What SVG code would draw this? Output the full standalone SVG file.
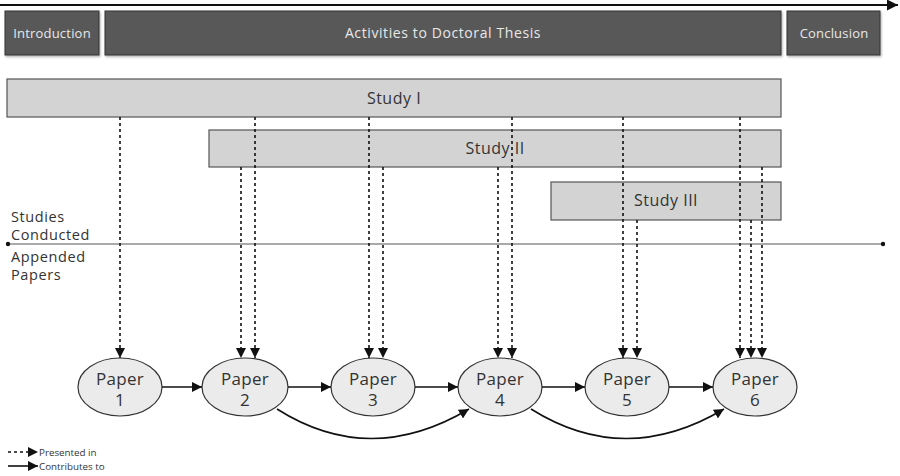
<svg xmlns="http://www.w3.org/2000/svg" width="900" height="476" viewBox="0 0 900 476">
  <defs>
    <marker id="head" viewBox="0 0 10 10" refX="10" refY="5" markerWidth="10" markerHeight="10" markerUnits="userSpaceOnUse" orient="auto">
      <path d="M0,0 L10,5 L0,10 z" fill="#111"/>
    </marker>
    <marker id="headBig" viewBox="0 0 10 10" refX="10" refY="5" markerWidth="11" markerHeight="11" markerUnits="userSpaceOnUse" orient="auto">
      <path d="M0,0 L10,5 L0,10 z" fill="#111"/>
    </marker>
    <filter id="shadow" x="-5%" y="-10%" width="110%" height="130%">
      <feDropShadow dx="1" dy="1.5" stdDeviation="1" flood-color="#000" flood-opacity="0.3"/>
    </filter>
  </defs>
  <style>
    text { font-family: "Open Sans", "Noto Sans", "Liberation Sans", sans-serif; }
    .phase { fill: #595959; stroke: #333; stroke-width: 1; filter: url(#shadow); }
    .phase-label { fill: #e8e8e8; font-size: 13px; letter-spacing: 0.2px; text-anchor: middle; }
    .phase-label.wide { font-size: 14px; letter-spacing: 0.6px; }
    .study { fill: #d3d3d3; stroke: #555; stroke-width: 1.2; }
    .study-label { fill: #333; font-size: 16px; letter-spacing: 0.5px; text-anchor: middle; }
    .paper { fill: #ebebeb; stroke: #333; stroke-width: 1.2; }
    .paper-label { fill: #333; font-size: 17px; letter-spacing: 0.3px; text-anchor: middle; }
    .side-label { fill: #333; font-size: 14.5px; letter-spacing: 0.6px; }
    .legend-label { fill: #333; font-size: 9.8px; }
    .presented { stroke: #111; stroke-width: 1.6; stroke-dasharray: 3 3; fill: none; marker-end: url(#head); }
    .contributes { stroke: #111; stroke-width: 1.6; fill: none; marker-end: url(#head); }
  </style>

  <!-- time axis -->
  <line x1="0" y1="5" x2="898" y2="5" stroke="#111" stroke-width="1.8" marker-end="url(#headBig)"/>

  <!-- phases -->
  <g id="introduction">
    <rect class="phase" x="5" y="11" width="94" height="44"/>
    <text class="phase-label" x="52" y="38">Introduction</text>
  </g>
  <g id="activities">
    <rect class="phase" x="105" y="11" width="676" height="44"/>
    <text class="phase-label wide" x="443" y="38">Activities to Doctoral Thesis</text>
  </g>
  <g id="conclusion">
    <rect class="phase" x="787" y="11" width="93" height="44"/>
    <text class="phase-label" x="834" y="38">Conclusion</text>
  </g>

  <!-- studies -->
  <g id="study-1">
    <rect class="study" x="7" y="79" width="774" height="38"/>
    <text class="study-label" x="394" y="104">Study I</text>
  </g>
  <g id="study-2">
    <rect class="study" x="209" y="130" width="572" height="37"/>
    <text class="study-label" x="495" y="154">Study II</text>
  </g>
  <g id="study-3">
    <rect class="study" x="551" y="182" width="230" height="38"/>
    <text class="study-label" x="666" y="206">Study III</text>
  </g>

  <!-- divider between studies and papers -->
  <g id="divider">
    <line x1="8" y1="244" x2="883" y2="244" stroke="#555" stroke-width="1.2"/>
    <circle cx="8" cy="244" r="2.2" fill="#111"/>
    <circle cx="883" cy="244" r="2.2" fill="#111"/>
    <text class="side-label" x="11" y="222">Studies</text>
    <text class="side-label" x="11" y="240">Conducted</text>
    <text class="side-label" x="11" y="262">Appended</text>
    <text class="side-label" x="11" y="280">Papers</text>
  </g>

  <!-- papers -->
  <g id="paper-1">
    <ellipse class="paper" cx="120" cy="387" rx="42" ry="29"/>
    <text class="paper-label" x="120" y="385">Paper</text>
    <text class="paper-label" x="120" y="406">1</text>
  </g>
  <g id="paper-2">
    <ellipse class="paper" cx="245" cy="387" rx="43" ry="29"/>
    <text class="paper-label" x="245" y="385">Paper</text>
    <text class="paper-label" x="245" y="406">2</text>
  </g>
  <g id="paper-3">
    <ellipse class="paper" cx="373" cy="387" rx="42" ry="29"/>
    <text class="paper-label" x="373" y="385">Paper</text>
    <text class="paper-label" x="373" y="406">3</text>
  </g>
  <g id="paper-4">
    <ellipse class="paper" cx="500" cy="387" rx="42" ry="29"/>
    <text class="paper-label" x="500" y="385">Paper</text>
    <text class="paper-label" x="500" y="406">4</text>
  </g>
  <g id="paper-5">
    <ellipse class="paper" cx="627" cy="387" rx="42" ry="29"/>
    <text class="paper-label" x="627" y="385">Paper</text>
    <text class="paper-label" x="627" y="406">5</text>
  </g>
  <g id="paper-6">
    <ellipse class="paper" cx="755" cy="387" rx="42" ry="29"/>
    <text class="paper-label" x="755" y="385">Paper</text>
    <text class="paper-label" x="755" y="406">6</text>
  </g>

  <!-- connectors -->
  <g id="connectors">
    <!-- Study I -> papers -->
    <line class="presented" x1="120" y1="117" x2="120" y2="358"/>
    <line class="presented" x1="255" y1="117" x2="255" y2="358"/>
    <line class="presented" x1="369" y1="117" x2="369" y2="358"/>
    <line class="presented" x1="512" y1="117" x2="512" y2="358"/>
    <line class="presented" x1="623" y1="117" x2="623" y2="358"/>
    <line class="presented" x1="740" y1="117" x2="740" y2="358"/>
    <!-- Study II -> papers -->
    <line class="presented" x1="241" y1="167" x2="241" y2="358"/>
    <line class="presented" x1="383" y1="167" x2="383" y2="358"/>
    <line class="presented" x1="498" y1="167" x2="498" y2="358"/>
    <line class="presented" x1="762" y1="167" x2="762" y2="358"/>
    <!-- Study III -> papers -->
    <line class="presented" x1="637" y1="220" x2="637" y2="358"/>
    <line class="presented" x1="751" y1="220" x2="751" y2="358"/>

    <!-- paper to paper -->
    <line class="contributes" x1="162" y1="387" x2="202" y2="387"/>
    <line class="contributes" x1="288" y1="387" x2="331" y2="387"/>
    <line class="contributes" x1="415" y1="387" x2="458" y2="387"/>
    <line class="contributes" x1="542" y1="387" x2="585" y2="387"/>
    <line class="contributes" x1="669" y1="387" x2="713" y2="387"/>
    <path class="contributes" d="M277,409 Q370,468 469,409"/>
    <path class="contributes" d="M531,409 Q625,468 724,409"/>
  </g>

  <!-- legend -->
  <g id="legend">
    <line class="presented" x1="8" y1="452" x2="38" y2="452"/>
    <text class="legend-label" x="39" y="456">Presented in</text>
    <line class="contributes" x1="8" y1="466" x2="38" y2="466"/>
    <text class="legend-label" x="39" y="470">Contributes to</text>
  </g>
</svg>
